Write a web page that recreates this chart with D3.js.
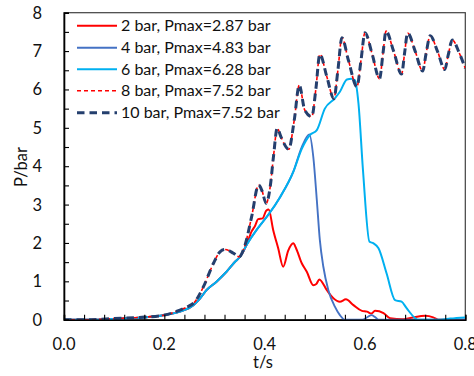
<!DOCTYPE html>
<html>
<head>
<meta charset="utf-8">
<script src="https://cdnjs.cloudflare.com/ajax/libs/d3/7.8.5/d3.min.js"></script>
<style>
  body { margin: 0; background: #fff; }
  text { font-family: Lato, "Open Sans", sans-serif; fill: #111; }
</style>
</head>
<body>
<div id="chart"></div>
<script>
// data
var seriesNames = ['2 bar, Pmax=2.87 bar', '4 bar, Pmax=4.83 bar', '6 bar, Pmax=6.28 bar',
    '8 bar, Pmax=7.52 bar', '10 bar, Pmax=7.52 bar'];

var xTicks = [0.0, 0.2, 0.4, 0.6, 0.8];
var yTicks = [0, 1, 2, 3, 4, 5, 6, 7, 8];

// 2 bar
var t2 = [0, 0.05, 0.10, 0.15, 0.20, 0.231, 0.258, 0.271, 0.284, 0.304, 0.324, 0.341, 0.351, 0.364,
    0.374, 0.381, 0.387, 0.396, 0.403, 0.408, 0.417, 0.427, 0.437, 0.447, 0.457, 0.463, 0.474, 0.484,
    0.497, 0.503, 0.509, 0.524, 0.537, 0.550, 0.562, 0.577, 0.594, 0.604, 0.613, 0.620, 0.637, 0.650,
    0.676, 0.696, 0.720, 0.736, 0.746, 0.80];
var p2 = [0, 0, 0.02, 0.05, 0.12, 0.21, 0.38, 0.55, 0.77, 0.99, 1.25, 1.51, 1.64, 1.95,
    2.3, 2.45, 2.62, 2.64, 2.84, 2.87, 2.34, 1.86, 1.38, 1.8, 1.99, 1.85, 1.47, 1.25,
    0.9, 0.93, 1.05, 0.77, 0.56, 0.47, 0.53, 0.38, 0.23, 0.21, 0.16, 0.23, 0.17, 0.04,
    0.01, 0.06, 0.1, 0.06, 0, 0];

// 4 bar
var t4 = [0, 0.05, 0.10, 0.15, 0.20, 0.231, 0.258, 0.271, 0.284, 0.304, 0.324, 0.341, 0.351, 0.364,
    0.384, 0.394, 0.407, 0.431, 0.457, 0.474, 0.489, 0.497, 0.504, 0.510, 0.517, 0.527, 0.540, 0.550,
    0.560, 0.595, 0.605, 0.613, 0.620, 0.627, 0.80];
var p4 = [0, 0, 0.02, 0.05, 0.12, 0.21, 0.38, 0.55, 0.77, 0.99, 1.25, 1.51, 1.64, 1.95,
    2.34, 2.51, 2.73, 3.2, 3.85, 4.5, 4.83, 4.24, 3.12, 2.08, 1.38, 0.77, 0.34, 0.12,
    0, 0, 0.07, 0.12, 0.07, 0, 0];

// 6 bar
var t6 = [0, 0.05, 0.10, 0.15, 0.20, 0.231, 0.258, 0.271, 0.284, 0.304, 0.324, 0.341, 0.351, 0.364,
    0.384, 0.394, 0.407, 0.431, 0.457, 0.474, 0.490, 0.504, 0.520, 0.540, 0.550, 0.564, 0.573, 0.580,
    0.587, 0.596, 0.609, 0.617, 0.627, 0.643, 0.660, 0.673, 0.683, 0.700, 0.705, 0.750, 0.770, 0.80];
var p6 = [0, 0, 0.02, 0.05, 0.12, 0.21, 0.38, 0.55, 0.77, 0.99, 1.25, 1.51, 1.64, 1.95,
    2.34, 2.51, 2.73, 3.2, 3.85, 4.45, 4.81, 4.94, 5.5, 5.77, 5.94, 6.26, 6.28, 6.24,
    5.64, 3.9, 2.03, 1.99, 1.86, 1.21, 0.51, 0.47, 0.30, 0.04, 0, 0, 0.03, 0.06];

// 8 bar and 10 bar (same trace)
var t8 = [0, 0.05, 0.10, 0.15, 0.20, 0.231, 0.245, 0.261, 0.278, 0.298, 0.311, 0.321, 0.338, 0.349,
    0.361, 0.374, 0.388, 0.395, 0.403, 0.411, 0.418, 0.425, 0.433, 0.448, 0.459, 0.469, 0.480, 0.494,
    0.502, 0.510, 0.524, 0.538, 0.546, 0.554, 0.567, 0.584, 0.592, 0.600, 0.614, 0.629, 0.636, 0.642,
    0.657, 0.673, 0.679, 0.685, 0.700, 0.715, 0.722, 0.730, 0.745, 0.759, 0.766, 0.774, 0.788, 0.80];
var p8 = [0, 0, 0.03, 0.06, 0.12, 0.25, 0.33, 0.47, 0.86, 1.47, 1.77, 1.83, 1.73, 1.64,
    1.95, 2.68, 3.51, 3.35, 3.03, 3.46, 4.3, 4.99, 4.75, 4.44, 5.2, 6.11, 5.46, 5.29,
    6.0, 6.92, 6.33, 5.76, 6.5, 7.35, 6.76, 6.07, 6.75, 7.48, 6.94, 6.28, 6.95, 7.52,
    7.0, 6.40, 6.95, 7.47, 7.0, 6.48, 6.95, 7.40, 6.98, 6.52, 6.9, 7.29, 6.95, 6.55];
var t10 = t8;
var p10 = p8;

// svg area
var svgWidth = 474;
var svgHeight = 376;

// plot area
var margin = { top: 12.7, bottom: 56.3, right: 8.7, left: 64 };
var width = svgWidth - margin.left - margin.right;
var height = svgHeight - margin.top - margin.bottom;

var svg = d3.select('#chart')
    .append('svg')
    .attr('width', svgWidth)
    .attr('height', svgHeight);

var chartGroup = svg.append('g')
    .attr('transform', `translate(${margin.left}, ${margin.top})`);

var xScale = d3.scaleLinear().domain([0, 0.8]).range([0, width]);
var yScale = d3.scaleLinear().domain([0, 8]).range([height, 0]);

// frame (top and right)
chartGroup.append('rect')
    .attr('width', width)
    .attr('height', height)
    .attr('fill', 'none')
    .attr('stroke', '#404040')
    .attr('stroke-width', 1.2);

// series styles
var series = [
    { t: t2, p: p2, color: '#ff0000', w: 2, dash: null },
    { t: t4, p: p4, color: '#4472c4', w: 1.9, dash: null },
    { t: t6, p: p6, color: '#00b0f0', w: 2, dash: null },
    { t: t8, p: p8, color: '#ff0000', w: 1.6, dash: '4,3' },
    { t: t10, p: p10, color: '#243f6e', w: 3, dash: '7.5,5' }
];

var line = d3.line()
    .x(d => xScale(d[0]))
    .y(d => yScale(d[1]))
    .curve(d3.curveMonotoneX);

var clip = svg.append('clipPath').attr('id', 'plotclip')
    .append('rect')
    .attr('x', 0).attr('y', -10)
    .attr('width', width).attr('height', height + 10);

series.forEach(function (s) {
    var pts = s.t.map((t, i) => [t, s.p[i]]);
    chartGroup.append('path')
        .datum(pts)
        .attr('d', line)
        .attr('clip-path', 'url(#plotclip)')
        .attr('fill', 'none')
        .attr('stroke', s.color)
        .attr('stroke-width', s.w)
        .attr('stroke-dasharray', s.dash);
});

// axes, ticks point inside
var xAxis = d3.axisBottom(xScale)
    .tickValues(d3.range(0, 0.8001, 0.04))
    .tickSize(-5)
    .tickFormat('');
var yAxis = d3.axisLeft(yScale)
    .tickValues(d3.range(0, 8.001, 0.5))
    .tickSize(-5)
    .tickFormat('');

chartGroup.append('g')
    .attr('transform', `translate(0, ${height})`)
    .call(xAxis)
    .call(g => g.select('.domain').attr('stroke', '#000').attr('stroke-width', 1.6))
    .call(g => g.selectAll('.tick line').attr('stroke', '#000').attr('stroke-width', 1.1));

chartGroup.append('g')
    .call(yAxis)
    .call(g => g.select('.domain').attr('stroke', '#000').attr('stroke-width', 1.6))
    .call(g => g.selectAll('.tick line').attr('stroke', '#000').attr('stroke-width', 1.1));

// tick labels
chartGroup.selectAll('.xlab')
    .data(xTicks)
    .enter()
    .append('text')
    .attr('x', d => xScale(d))
    .attr('y', height + 30)
    .attr('text-anchor', 'middle')
    .style('font-size', '16.5px')
    .text(d => d.toFixed(1));

chartGroup.selectAll('.ylab')
    .data(yTicks)
    .enter()
    .append('text')
    .attr('x', -22)
    .attr('y', d => yScale(d))
    .attr('dy', '0.36em')
    .attr('text-anchor', 'end')
    .style('font-size', '16.5px')
    .text(d => d);

// axis titles
svg.append('text')
    .attr('x', 263)
    .attr('y', 368)
    .attr('text-anchor', 'middle')
    .style('font-size', '16.5px')
    .text('t/s');

svg.append('text')
    .attr('transform', 'translate(27, 167) rotate(-90)')
    .attr('text-anchor', 'middle')
    .style('font-size', '16.5px')
    .text('P/bar');

// legend
var legend = svg.append('g');
var rowY = [25.7, 47.7, 69.3, 90.7, 112.7];

series.forEach(function (s, i) {
    legend.append('line')
        .attr('x1', 77).attr('x2', 117)
        .attr('y1', rowY[i]).attr('y2', rowY[i])
        .attr('stroke', s.color)
        .attr('stroke-width', s.w)
        .attr('stroke-dasharray', s.dash);
    legend.append('text')
        .attr('x', 121)
        .attr('y', rowY[i])
        .attr('dy', '0.36em')
        .style('font-size', '16px')
        .text(seriesNames[i]);
});
</script>
</body>
</html>
